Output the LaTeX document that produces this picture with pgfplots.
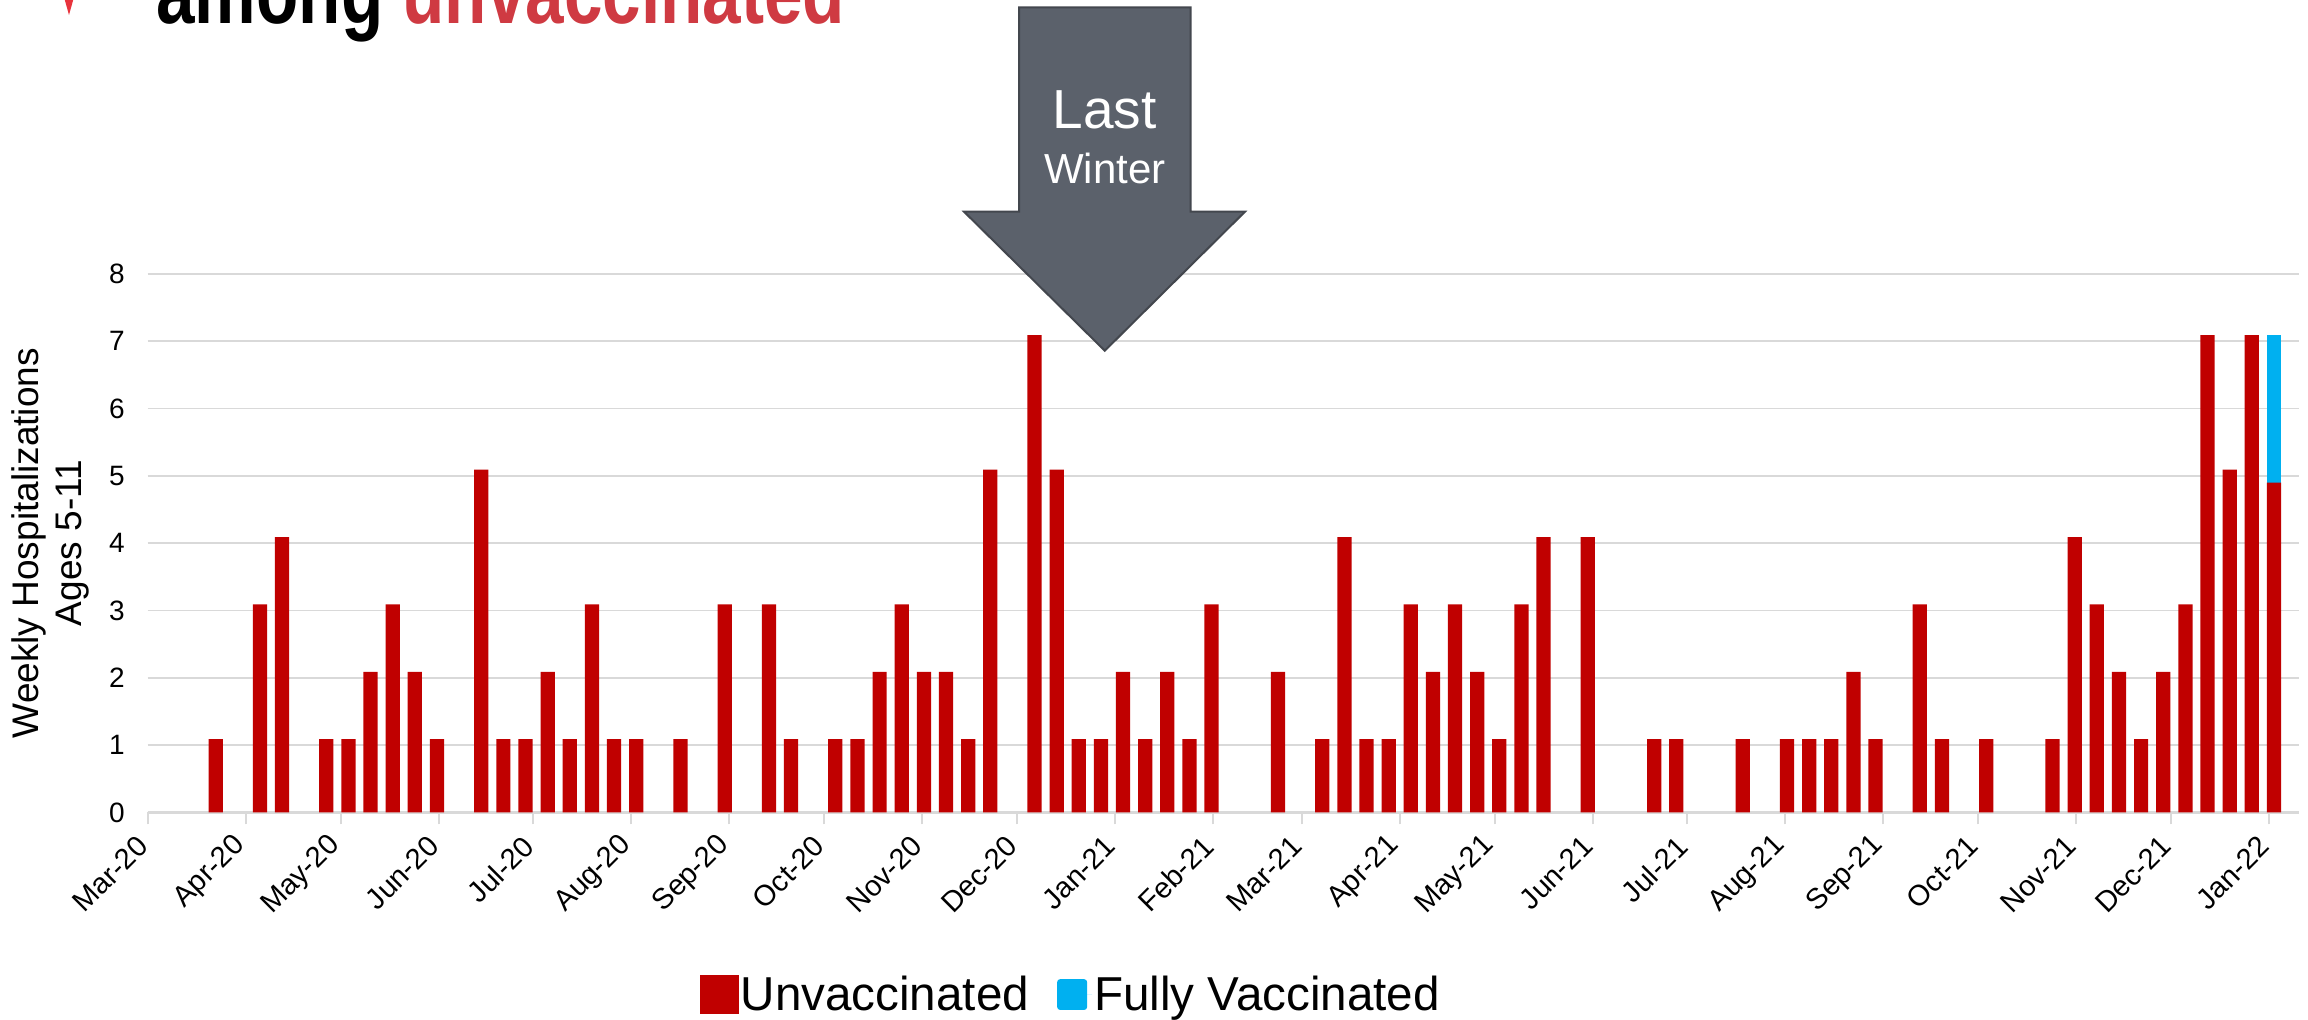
\documentclass[border=0pt]{standalone}
\usepackage{pgfplots}
\pgfplotsset{compat=1.18}
\usepackage{pgfplotstable}
\usepackage{fontspec}
\setmainfont{Liberation Sans}
\definecolor{unvax}{HTML}{C00000}
\definecolor{fullvax}{HTML}{00B0F0}
\definecolor{gridgray}{HTML}{D9D9D9}
\definecolor{arrowgray}{HTML}{5B616B}
\definecolor{arrowedge}{HTML}{43474E}
\definecolor{titlered}{HTML}{CF3A42}
\definecolor{logored}{HTML}{E8333C}

% day = days since 2020-03-01 (bar centred on its week date)
\pgfplotstableread{
day unvax vax
21.5 1.09 0
28.5 0 0
35.5 3.09 0
42.5 4.09 0
49.5 0 0
56.5 1.09 0
63.5 1.09 0
70.5 2.09 0
77.5 3.09 0
84.5 2.09 0
91.5 1.09 0
98.5 0 0
105.5 5.09 0
112.5 1.09 0
119.5 1.09 0
126.5 2.09 0
133.5 1.09 0
140.5 3.09 0
147.5 1.09 0
154.5 1.09 0
161.5 0 0
168.5 1.09 0
175.5 0 0
182.5 3.09 0
189.5 0 0
196.5 3.09 0
203.5 1.09 0
210.5 0 0
217.5 1.09 0
224.5 1.09 0
231.5 2.09 0
238.5 3.09 0
245.5 2.09 0
252.5 2.09 0
259.5 1.09 0
266.5 5.09 0
273.5 0 0
280.5 7.09 0
287.5 5.09 0
294.5 1.09 0
301.5 1.09 0
308.5 2.09 0
315.5 1.09 0
322.5 2.09 0
329.5 1.09 0
336.5 3.09 0
343.5 0 0
350.5 0 0
357.5 2.09 0
364.5 0 0
371.5 1.09 0
378.5 4.09 0
385.5 1.09 0
392.5 1.09 0
399.5 3.09 0
406.5 2.09 0
413.5 3.09 0
420.5 2.09 0
427.5 1.09 0
434.5 3.09 0
441.5 4.09 0
448.5 0 0
455.5 4.09 0
462.5 0 0
469.5 0 0
476.5 1.09 0
483.5 1.09 0
490.5 0 0
497.5 0 0
504.5 1.09 0
511.5 0 0
518.5 1.09 0
525.5 1.09 0
532.5 1.09 0
539.5 2.09 0
546.5 1.09 0
553.5 0 0
560.5 3.09 0
567.5 1.09 0
574.5 0 0
581.5 1.09 0
588.5 0 0
595.5 0 0
602.5 1.09 0
609.5 4.09 0
616.5 3.09 0
623.5 2.09 0
630.5 1.09 0
637.5 2.09 0
644.5 3.09 0
651.5 7.09 0
658.5 5.09 0
665.5 7.09 0
672.5 4.90 2.19
}\hosp

\begin{document}
\begin{tikzpicture}[x=0.5pt,y=0.5pt]
\useasboundingbox (0,0) rectangle (2308,1020);
\clip (0,0) rectangle (2308,1020);
\begin{axis}[
  at={(73.85pt,103.75pt)}, anchor=south west,
  scale only axis, width=1075.65pt, height=269.35pt,
  xmin=0, xmax=680.4, ymin=0, ymax=8,
  ybar stacked, bar width=4.5,
  axis x line*=bottom, axis y line*=left,
  x axis line style={gridgray, line width=1.2pt},
  y axis line style={draw=none},
  ymajorgrids, grid style={gridgray, line width=0.9pt},
  ytick={0,1,...,8},
  xtick={0,31,61,92,122,153,184,214,245,275,306,337,365,396,426,457,487,518,549,579,610,640,671},
  xticklabels={Mar-20,Apr-20,May-20,Jun-20,Jul-20,Aug-20,Sep-20,Oct-20,Nov-20,Dec-20,Jan-21,Feb-21,Mar-21,Apr-21,May-21,Jun-21,Jul-21,Aug-21,Sep-21,Oct-21,Nov-21,Dec-21,Jan-22},
  tick align=outside,
  xtick style={gridgray, line width=1pt},
  ytick style={draw=none},
  major tick length=6pt,
  /pgf/number format/assume math mode=true,
  tick label style={text=black},
  xticklabel style={rotate=45, anchor=east, font=\fontsize{14.5}{17}\selectfont},
  xticklabel shift=6pt,
  yticklabel style={anchor=east, xshift=-2pt, font=\fontsize{14}{17}\selectfont},
  ylabel={Weekly Hospitalizations\\Ages 5-11},
  every axis y label/.style={at={(axis description cs:-0.04504,0.5)}, rotate=90, anchor=center, align=center, font=\fontsize{18.5}{21.5}\selectfont},
  legend columns=2,
  legend style={at={(axis description cs:0.4292,-0.338)}, anchor=center, draw=none, fill=none,
    font=\fontsize{23.8}{27}\selectfont, nodes={inner sep=1pt},
    /tikz/every even column/.append style={column sep=13pt}},
  legend cell align=left,
]
\addplot[fill=unvax, draw=none,
  legend image code/.code={\fill[unvax] (0pt,-9.8pt) rectangle (19.3pt,9.8pt);}]
  table[x=day, y=unvax] {\hosp};
\addlegendentry{Unvaccinated}
\addplot[fill=fullvax, draw=none,
  legend image code/.code={\fill[fullvax, rounded corners=1.5pt] (0pt,-7.7pt) rectangle (15pt,7.7pt); \path (0pt,0pt) -- (17.5pt,0pt);}]
  table[x=day, y=vax] {\hosp};
\addlegendentry{Fully Vaccinated}
\end{axis}

% title fragment (cut off at the top)
\fill[logored] (62,1030) -- (76,1030) -- (69,1005) -- cycle;
\node[anchor=base west, inner sep=0pt, xscale=0.787, font=\bfseries\fontsize{44}{50}\selectfont]
  at (156,996.7) {among \textcolor{titlered}{unvaccinated}};

% "Last Winter" arrow
\draw[arrowedge, fill=arrowgray, line width=1pt, line join=miter]
  (1019,1012.7) -- (1190.7,1012.7) -- (1190.7,808.3) -- (1245,808.3)
  -- (1104.8,669.3) -- (964,808.3) -- (1019,808.3) -- cycle;
\node[white, font=\fontsize{27.5}{31}\selectfont] at (1104.8,910) {Last};
\node[white, font=\fontsize{21}{25}\selectfont] at (1104.8,851) {Winter};
\end{tikzpicture}
\end{document}
